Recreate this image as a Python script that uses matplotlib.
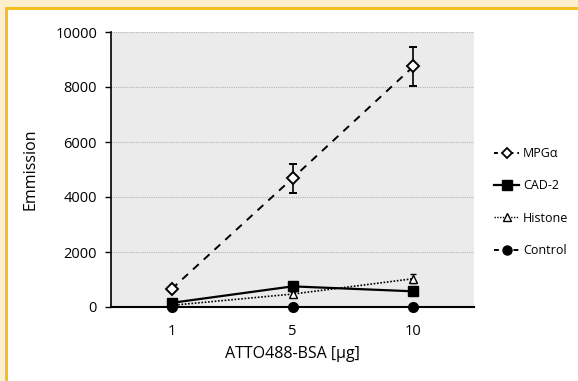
import matplotlib
matplotlib.use("Agg")
import matplotlib.pyplot as plt
from matplotlib.patches import Rectangle
from matplotlib.lines import Line2D

categories = ["1", "5", "10"]
mpg = [650, 4680, 8750]
mpg_err = [60, 530, 700]
cad2 = [150, 750, 570]
histone = [60, 470, 1030]
histone_err = [20, 60, 170]
control = [0, 0, 0]
yticks = [0, 2000, 4000, 6000, 8000, 10000]

plt.rcParams['font.family'] = ['Open Sans', 'DejaVu Sans']

W, H = 578, 381
fig = plt.figure(figsize=(W / 100, H / 100), dpi=100)
fig.patch.set_facecolor("white")

# border decorations
fig.patches.append(Rectangle((0, 0), 1, 1, transform=fig.transFigure,
                             facecolor="#FDEFCB", edgecolor="none", zorder=-3))
fig.patches.append(Rectangle((5 / W, -0.1), 1.1, (H - 7) / H + 0.1, transform=fig.transFigure,
                             facecolor="#F7BE1E", edgecolor="none", zorder=-2))
fig.patches.append(Rectangle((8 / W, -0.1), 1.1, (H - 10) / H + 0.1, transform=fig.transFigure,
                             facecolor="white", edgecolor="none", zorder=-1))

ax = fig.add_axes([111 / W, 1 - 307 / H, (474 - 111) / W, (307 - 32) / H])
ax.set_facecolor("#EBEBEB")
x = list(range(len(categories)))

ax.errorbar(x, mpg, yerr=mpg_err, color="black", ls=(0, (4, 3.5)), lw=1.4,
            marker="D", ms=6, mfc="white", mec="black", mew=1.4,
            capsize=3, elinewidth=1.2, capthick=1.2, zorder=5, label="MPGα")
ax.plot(x, cad2, color="black", ls="-", lw=1.6, marker="s", ms=7,
        mfc="black", mec="black", zorder=4, label="CAD-2")
ax.errorbar(x, histone, yerr=histone_err, color="black", ls=(0, (1, 1)), lw=1.2,
            marker="^", ms=6, mfc="white", mec="black", mew=1.0,
            capsize=2.5, elinewidth=1.0, capthick=1.0, zorder=4, label="Histone")
ax.plot(x, control, color="black", ls=(0, (4, 3.5)), lw=1.4, marker="o", ms=7,
        mfc="black", mec="black", zorder=6, clip_on=False, label="Control")

ax.set_xlim(-0.5, len(categories) - 0.5)
ax.set_ylim(0, 10000)
ax.set_yticks(yticks)
ax.set_yticklabels([str(v) for v in yticks])
ax.set_xticks(x)
ax.set_xticklabels(categories)
ax.yaxis.grid(True, color="#B4B4B4", ls=(0, (1, 1)), lw=0.8)
ax.set_axisbelow(True)
for s in ["top", "right"]:
    ax.spines[s].set_visible(False)
ax.spines["left"].set_linewidth(1.2)
ax.spines["bottom"].set_linewidth(1.5)
ax.tick_params(axis="y", length=4, width=1.0, pad=6, labelsize=10.5, colors="black")
ax.tick_params(axis="x", length=0, pad=12, labelsize=10.5, colors="black")
ax.set_ylabel("Emmission", fontsize=11.5, labelpad=12)
ax.set_xlabel("ATTO488-BSA [μg]", fontsize=11.5, labelpad=5)

handles = [
    Line2D([], [], color="black", ls=(0, (2, 2)), lw=1.4, marker="D", ms=5, mfc="white", mew=1.3),
    Line2D([], [], color="black", ls="-", lw=1.6, marker="s", ms=6.5, mfc="black"),
    Line2D([], [], color="black", ls=(0, (1, 1)), lw=1.0, marker="^", ms=6, mfc="white", mew=1.0),
    Line2D([], [], color="black", ls=(0, (2.5, 2.5)), lw=1.4, marker="o", ms=6.5, mfc="black"),
]
fig.legend(handles, ["MPGα", "CAD-2", "Histone", "Control"], loc="center left",
           bbox_to_anchor=(494 / W, 1 - 202 / H), frameon=False, fontsize=9,
           handlelength=2.0, handletextpad=0.3, labelspacing=1.55, borderaxespad=0,
           borderpad=0)

fig.savefig("out.png", dpi=100, facecolor=fig.get_facecolor())
